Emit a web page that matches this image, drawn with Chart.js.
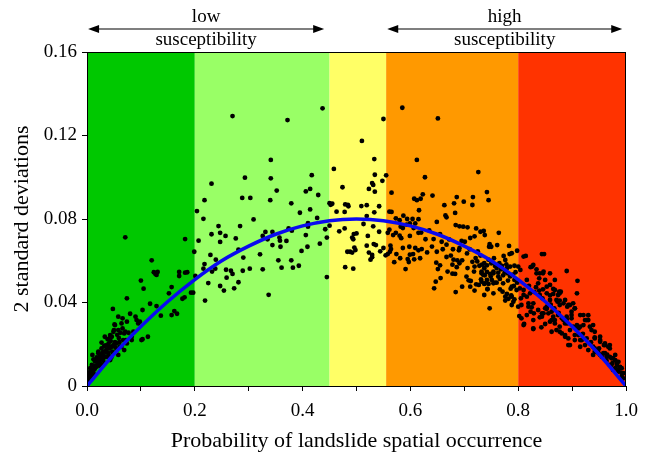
<!DOCTYPE html>
<html>
<head>
<meta charset="utf-8">
<script src="https://cdn.jsdelivr.net/npm/chart.js@4.4.1/dist/chart.umd.min.js"></script>
<style>
  html, body { margin: 0; padding: 0; background: #fff; }
  #wrap { width: 650px; height: 454px; }
</style>
</head>
<body>
<div id="wrap"><canvas id="chart" width="650" height="454"></canvas></div>
<script>
// susceptibility classes along the x axis
const bandEdges = [0, 0.2, 0.45, 0.555, 0.8, 1.0];
const bandColors = ['#00c800', '#99ff66', '#ffff66', '#ff9900', '#ff3300'];

// labelled ranges above the plot
const rangeFrom = [0.002, 0.557];
const rangeTo = [0.44, 0.993];
const rangeText = [['low', 'susceptibility'], ['high', 'susceptibility']];

// fitted curve
const curveX = [0, 0.05, 0.1, 0.15, 0.2, 0.25, 0.3, 0.35, 0.4, 0.45, 0.5, 0.55, 0.6, 0.65, 0.7, 0.75, 0.8, 0.85, 0.9, 0.95, 1.0];
const curveY = [0, 0.0152, 0.0285, 0.0405, 0.051, 0.06, 0.067, 0.0727, 0.0767, 0.0792, 0.08, 0.0792, 0.0767, 0.0727, 0.067, 0.06, 0.051, 0.0405, 0.0285, 0.0152, 0];

// scatter points [probability, 2 sd], grouped by class
const pointsVeryLow = [
  [0.071,0.0712],[0.182,0.0704],[0.120,0.0602],[0.124,0.0545],[0.127,0.0537],[0.131,0.0546],[0.129,0.0532],[0.171,0.0546],
  [0.182,0.0543],[0.186,0.0545],[0.100,0.0505],[0.105,0.0466],[0.157,0.0474],[0.171,0.0527],[0.152,0.0444],[0.177,0.0418],
  [0.181,0.0425],[0.193,0.0447],[0.074,0.042],[0.117,0.0394],[0.103,0.0364],[0.129,0.0383],[0.137,0.0337],[0.157,0.034],
  [0.162,0.0359],[0.167,0.0346],[0.048,0.0369],[0.058,0.0332],[0.066,0.0324],[0.074,0.0308],[0.080,0.0346],[0.090,0.0332],
  [0.095,0.030],[0.092,0.0316],[0.098,0.0308],[0.051,0.0295],[0.050,0.0268],[0.043,0.0233],[0.046,0.0236],[0.059,0.023],
  [0.066,0.0276],[0.069,0.0252],[0.077,0.0255],[0.086,0.026],[0.083,0.022],[0.072,0.022],[0.103,0.0224],[0.113,0.0236],
  [0.027,0.0208],[0.032,0.0192],[0.041,0.0188],[0.049,0.0196],[0.055,0.0172],[0.058,0.0149],[0.069,0.0172],[0.064,0.0188],
  [0.035,0.0164],[0.040,0.0149],[0.047,0.0164],[0.027,0.018],[0.021,0.0164],[0.024,0.0149],[0.033,0.014],[0.045,0.0137],
  [0.018,0.0137],[0.012,0.0128],[0.015,0.0117],[0.022,0.0117],[0.030,0.0124],[0.009,0.0101],[0.018,0.0096],[0.026,0.0105],
  [0.006,0.0085],[0.014,0.008],[0.003,0.0061],[0.007,0.0069],[0.001,0.0045],[0.009,0.0048],[0.004,0.0029],[0.000,0.0016],
  [0.010,0.0149],[0.064,0.030],[0.052,0.0292],[0.043,0.0244],[0.049,0.026],[0.033,0.0236],[0.058,0.0268],[0.067,0.022],
  [0.074,0.0204],[0.055,0.0204],[0.061,0.0188],[0.040,0.0204],[0.046,0.0188],[0.021,0.0157],[0.030,0.0164],[0.037,0.014],
  [0.049,0.0157],[0.015,0.0124],[0.024,0.0124],[0.033,0.0109],[0.043,0.0124],[0.018,0.0093],[0.006,0.0069],[0.012,0.0061],
  [0.003,0.0045],[0.009,0.0037],[0.000,0.002],[0.083,0.0236],[0.101,0.022],[0.199,0.0643],[0.197,0.0447],
  [0.005,0.004],[0.011,0.0075],[0.016,0.009],[0.020,0.011],[0.025,0.0135],[0.028,0.0155],[0.031,0.0145],[0.036,0.0175],
  [0.039,0.016],[0.042,0.018],[0.044,0.0215],[0.052,0.021],[0.056,0.0245],[0.062,0.0255],[0.008,0.0058],[0.013,0.0095],
  [0.019,0.0125],[0.023,0.0098],[0.029,0.0135],[0.035,0.0195],[0.038,0.0225],[0.053,0.0185],[0.060,0.021],[0.071,0.026]
];
const pointsLow = [
  [0.270,0.1293],[0.437,0.133],[0.372,0.1274],[0.341,0.1083],[0.293,0.0998],[0.341,0.0995],[0.231,0.0969],[0.417,0.101],
  [0.352,0.0936],[0.406,0.0932],[0.414,0.0944],[0.429,0.0915],[0.288,0.0901],[0.303,0.0901],[0.340,0.089],[0.218,0.089],
  [0.379,0.0875],[0.204,0.0838],[0.395,0.083],[0.414,0.0846],[0.427,0.0805],[0.216,0.0801],[0.309,0.0798],[0.410,0.078],
  [0.410,0.0763],[0.284,0.0766],[0.244,0.0766],[0.247,0.0734],[0.231,0.0727],[0.257,0.0719],[0.331,0.0738],[0.344,0.0738],
  [0.326,0.0719],[0.374,0.0755],[0.380,0.0744],[0.406,0.0723],[0.442,0.0751],[0.445,0.0711],[0.207,0.0696],[0.276,0.0707],
  [0.247,0.069],[0.335,0.0703],[0.357,0.0711],[0.358,0.0696],[0.344,0.0675],[0.370,0.0695],[0.359,0.0667],[0.432,0.0682],
  [0.409,0.0667],[0.398,0.0647],[0.281,0.0653],[0.229,0.0628],[0.290,0.0615],[0.239,0.0605],[0.321,0.0631],[0.355,0.0602],
  [0.379,0.0602],[0.393,0.0576],[0.361,0.0567],[0.382,0.0567],[0.218,0.0584],[0.216,0.0562],[0.232,0.0548],[0.238,0.0562],
  [0.258,0.0557],[0.267,0.0552],[0.270,0.0537],[0.289,0.0552],[0.302,0.0562],[0.326,0.0559],[0.201,0.0527],[0.259,0.0519],
  [0.225,0.0493],[0.281,0.0497],[0.247,0.0479],[0.273,0.0468],[0.254,0.0457],[0.445,0.0522],[0.337,0.0437],[0.219,0.0409]
];
const pointsModerate = [
  [0.458,0.104],[0.455,0.0873],[0.450,0.0876],[0.452,0.0868],[0.463,0.0835],[0.450,0.0768],[0.468,0.0741],
  [0.510,0.1174],[0.550,0.1279],[0.533,0.1087],[0.534,0.1012],[0.548,0.0983],[0.529,0.0972],[0.531,0.0963],[0.474,0.0952],
  [0.523,0.0944],[0.534,0.0931],[0.479,0.087],[0.484,0.0867],[0.485,0.0861],[0.509,0.0862],[0.519,0.0866],[0.542,0.0861],
  [0.478,0.0834],[0.533,0.0832],[0.519,0.0814],[0.513,0.0776],[0.531,0.0765],[0.478,0.0755],[0.542,0.0739],[0.495,0.0728],
  [0.500,0.0731],[0.492,0.0711],[0.494,0.0703],[0.521,0.0719],[0.519,0.0672],[0.532,0.068],[0.536,0.0675],[0.550,0.0661],
  [0.544,0.0645],[0.554,0.0626],[0.483,0.0643],[0.488,0.0643],[0.492,0.0639],[0.496,0.0663],[0.498,0.0651],[0.523,0.0639],
  [0.529,0.0628],[0.526,0.0605],[0.529,0.0617],[0.479,0.0569],[0.494,0.0562]
];
const pointsHigh = [
  [0.585,0.1333],[0.651,0.1282],[0.612,0.1083],[0.726,0.1025],[0.627,0.100],[0.555,0.1009],[0.565,0.0926],[0.742,0.0929],
  [0.623,0.0918],[0.619,0.0897],[0.641,0.0912],[0.607,0.0897],[0.612,0.089],[0.686,0.0905],[0.716,0.0905],[0.745,0.089],
  [0.681,0.0875],[0.699,0.0883],[0.663,0.0866],[0.715,0.0867],[0.616,0.0842],[0.561,0.0835],[0.565,0.0834],[0.683,0.0829],
  [0.665,0.0817],[0.667,0.0808],[0.587,0.0816],[0.573,0.0803],[0.580,0.0794],[0.594,0.080],[0.604,0.080],[0.615,0.0799],
  [0.649,0.0786],[0.561,0.0749],[0.558,0.0734],[0.568,0.0723],[0.573,0.0734],[0.582,0.0763],[0.586,0.0757],[0.593,0.0773],
  [0.599,0.0779],[0.609,0.0779],[0.606,0.0757],[0.615,0.0734],[0.599,0.0719],[0.580,0.072],[0.583,0.0708],[0.628,0.0703],
  [0.643,0.0704],[0.658,0.0691],[0.684,0.0771],[0.691,0.0765],[0.698,0.0763],[0.706,0.076],[0.722,0.0755],[0.730,0.0739],
  [0.736,0.0743],[0.711,0.0709],[0.719,0.0717],[0.738,0.0723],[0.746,0.0667],[0.701,0.0691],[0.679,0.0655],[0.690,0.065],
  [0.691,0.066],[0.667,0.0677],[0.563,0.0672],[0.564,0.0656],[0.562,0.0643],[0.558,0.0632],[0.574,0.0632],[0.586,0.0661],
  [0.598,0.0667],[0.609,0.0661],[0.615,0.065],[0.621,0.0656],[0.631,0.064],[0.599,0.0629],[0.605,0.0632],[0.581,0.0612],
  [0.570,0.0593],[0.595,0.0608],[0.597,0.0594],[0.607,0.0607],[0.618,0.0612],[0.591,0.056],[0.649,0.0643],[0.667,0.0618],
  [0.680,0.0605],[0.687,0.0602],[0.691,0.0588],[0.696,0.0602],[0.648,0.0591],[0.651,0.056],[0.655,0.0578],[0.678,0.0581],
  [0.686,0.0569],[0.706,0.0565],[0.718,0.0548],[0.719,0.0572],[0.721,0.0613],[0.724,0.0597],[0.728,0.0576],[0.732,0.0548],
  [0.735,0.0533],[0.737,0.0564],[0.742,0.0546],[0.742,0.0578],[0.669,0.0548],[0.678,0.0538],[0.683,0.0537],[0.656,0.0517],
  [0.647,0.050],[0.704,0.0524],[0.708,0.0506],[0.712,0.0503],[0.722,0.0487],[0.727,0.0484],[0.732,0.050],[0.737,0.0489],
  [0.743,0.0465],[0.644,0.0468],[0.696,0.0476],[0.711,0.0476],[0.719,0.0457],[0.684,0.045],[0.737,0.0436],
  [0.764,0.0734],[0.747,0.068],[0.750,0.0667],[0.761,0.0675],[0.783,0.0671],[0.798,0.0648],[0.773,0.0623],[0.776,0.0604],
  [0.784,0.0632],[0.737,0.0588],[0.733,0.0581],[0.757,0.0575],[0.765,0.0588],[0.768,0.0559],[0.778,0.0583],[0.785,0.0572],
  [0.793,0.0576],[0.732,0.054],[0.738,0.053],[0.748,0.0537],[0.754,0.054],[0.763,0.0543],[0.731,0.0511],[0.742,0.0508],
  [0.745,0.0489],[0.751,0.0508],[0.756,0.0495],[0.766,0.0513],[0.772,0.053],[0.780,0.054],[0.790,0.0533],[0.793,0.0508],
  [0.798,0.0495],[0.792,0.0479],[0.786,0.0466],[0.743,0.0463],[0.754,0.0444],[0.766,0.0463],[0.771,0.0452],[0.779,0.0441],
  [0.787,0.0434],[0.793,0.0415],[0.782,0.0418],[0.776,0.0409],[0.747,0.0372],[0.788,0.0388],[0.788,0.0636],[0.754,0.0548],
  [0.763,0.0524],[0.779,0.0564],[0.738,0.0492],[0.754,0.0492],[0.772,0.0492],[0.788,0.0476],[0.797,0.046],[0.776,0.0428],
  [0.788,0.0428],[0.791,0.0404],
  [0.620,0.0735],[0.635,0.0745],[0.640,0.0668],[0.655,0.0728],[0.660,0.0655],[0.672,0.0702],[0.675,0.0625],[0.695,0.0695],
  [0.705,0.0635],[0.710,0.0655],[0.715,0.0595],[0.725,0.0645],[0.730,0.0625],[0.745,0.0605],[0.750,0.0588],[0.755,0.0612],
  [0.760,0.0565],[0.770,0.0575],[0.775,0.0545],[0.785,0.0525],[0.795,0.0545],[0.760,0.0495],[0.781,0.0505],[0.749,0.0525]
];
const pointsVeryHigh = [
  [0.800,0.0572],[0.804,0.0556],[0.814,0.0623],[0.844,0.0632],[0.848,0.0632],[0.823,0.0569],[0.834,0.0559],[0.846,0.054],
  [0.890,0.0551],[0.803,0.0468],[0.810,0.0436],[0.805,0.042],[0.800,0.038],[0.802,0.0335],[0.806,0.0324],[0.811,0.0297],
  [0.826,0.0572],[0.834,0.054],[0.839,0.0516],[0.837,0.0492],[0.833,0.0473],[0.839,0.0457],[0.846,0.0463],[0.853,0.0444],
  [0.859,0.0434],[0.865,0.0441],[0.876,0.0452],[0.877,0.0409],[0.910,0.0504],[0.909,0.0444],[0.816,0.0428],[0.819,0.0396],
  [0.825,0.0377],[0.823,0.0356],[0.829,0.0348],[0.837,0.0364],[0.840,0.0329],[0.847,0.0348],[0.853,0.037],[0.860,0.0388],
  [0.867,0.0372],[0.873,0.0404],[0.877,0.0388],[0.884,0.0396],[0.891,0.038],[0.899,0.0356],[0.828,0.0273],[0.843,0.0281],
  [0.862,0.026],[0.871,0.0268],[0.881,0.0252],[0.887,0.0236],[0.893,0.0196],[0.896,0.0268],[0.905,0.0244],[0.915,0.022],
  [0.921,0.034],[0.927,0.0316],[0.930,0.0339],[0.884,0.0316],[0.891,0.030],[0.899,0.0324],[0.909,0.0292],[0.915,0.0284],
  [0.877,0.0284],[0.868,0.0316],[0.859,0.0308],[0.850,0.0297],[0.936,0.0268],[0.942,0.0233],[0.952,0.0212],[0.959,0.0196],
  [0.967,0.0188],[0.961,0.0157],[0.970,0.014],[0.976,0.0133],[0.983,0.0116],[0.989,0.0092],[0.995,0.0061],[0.933,0.0204],
  [0.942,0.018],[0.949,0.0157],[0.955,0.014],[0.964,0.0121],[0.973,0.0101],[0.980,0.0085],[0.986,0.0069],[0.992,0.0045],
  [0.924,0.0196],[0.930,0.0172],[0.939,0.0149],
  [0.865,0.0465],[0.879,0.0452],[0.859,0.0412],[0.871,0.0412],[0.893,0.0388],[0.902,0.0396],[0.905,0.0372],[0.850,0.0372],
  [0.844,0.0348],[0.856,0.0348],[0.865,0.0332],[0.874,0.034],[0.881,0.0324],[0.890,0.0332],[0.899,0.034],[0.930,0.0316],
  [0.939,0.0292],[0.921,0.0292],[0.912,0.0276],[0.902,0.0284],[0.887,0.030],[0.868,0.030],[0.877,0.026],[0.887,0.0244],
  [0.893,0.0228],[0.896,0.0196],[0.905,0.022],[0.912,0.0244],[0.918,0.022],[0.927,0.0228],[0.939,0.0188],[0.942,0.0228],
  [0.952,0.022],[0.961,0.0196],[0.970,0.0196],[0.948,0.0172],[0.958,0.0157],[0.964,0.014],[0.973,0.0133],[0.983,0.0101],
  [0.989,0.0085],[0.980,0.0124],[0.952,0.0149],[0.942,0.0164],[0.915,0.0188],[0.992,0.0061],[0.995,0.0037],[0.970,0.0101],
  [0.976,0.0077],
  [0.810,0.062],[0.847,0.0548],[0.859,0.054],[0.868,0.0508],[0.816,0.0508],[0.853,0.0476],[0.874,0.0436],[0.810,0.046],
  [0.822,0.0444],[0.840,0.0436],[0.806,0.0388],[0.819,0.038],[0.828,0.0396],[0.853,0.038],[0.862,0.0356],[0.816,0.034],
  [0.828,0.0316],[0.844,0.0332],[0.862,0.0316],[0.810,0.0292],[0.828,0.0276],
  [0.828,0.058],[0.840,0.054],[0.850,0.0508],[0.859,0.0484],[0.868,0.046],[0.877,0.0444],[0.887,0.0412],[0.896,0.0388],
  [0.905,0.0372],[0.915,0.034],[0.924,0.0316],[0.933,0.0284],[0.942,0.026],[0.952,0.0236],[0.961,0.0204],[0.970,0.018],
  [0.980,0.0149],[0.986,0.0116],[0.992,0.0085],[0.820,0.048],[0.830,0.045],[0.845,0.042],[0.860,0.039],[0.875,0.035],
  [0.890,0.032],[0.905,0.028],[0.920,0.025],[0.935,0.021],[0.950,0.018],[0.965,0.015],[0.975,0.011],[0.985,0.008]
];

const serif = "'Liberation Serif', 'Times New Roman', serif";

const samples = [].concat(pointsVeryLow, pointsLow, pointsModerate, pointsHigh, pointsVeryHigh)
  .map(p => ({x: p[0], y: p[1]}));
const curve = curveX.map((x, i) => ({x: x, y: curveY[i]}));

// coloured class bands behind the points
const bandPlugin = {
  id: 'bands',
  beforeDatasetsDraw(chart) {
    const {ctx, chartArea: a, scales: {x}} = chart;
    ctx.save();
    for (let i = 0; i < bandColors.length; i++) {
      const x0 = x.getPixelForValue(bandEdges[i]);
      const x1 = x.getPixelForValue(bandEdges[i + 1]);
      ctx.fillStyle = bandColors[i];
      ctx.fillRect(x0, a.top, x1 - x0, a.bottom - a.top);
    }
    ctx.restore();
  },
  afterDraw(chart) {
    const {ctx, chartArea: a, scales: {x}} = chart;
    ctx.save();
    // frame
    ctx.strokeStyle = '#000';
    ctx.lineWidth = 1;
    ctx.strokeRect(a.left + 0.5, a.top + 0.5, a.right - a.left - 1, a.bottom - a.top);

    // range arrows + labels
    const ay = 29;
    ctx.fillStyle = '#000';
    ctx.font = '19px ' + serif;
    ctx.textAlign = 'center';
    ctx.textBaseline = 'middle';
    for (let i = 0; i < rangeFrom.length; i++) {
      const x0 = x.getPixelForValue(rangeFrom[i]);
      const x1 = x.getPixelForValue(rangeTo[i]);
      ctx.beginPath();
      ctx.moveTo(x0 + 8, ay);
      ctx.lineTo(x1 - 8, ay);
      ctx.lineWidth = 1.2;
      ctx.stroke();
      ctx.beginPath();
      ctx.moveTo(x0, ay); ctx.lineTo(x0 + 11, ay - 4); ctx.lineTo(x0 + 11, ay + 4); ctx.closePath();
      ctx.moveTo(x1, ay); ctx.lineTo(x1 - 11, ay - 4); ctx.lineTo(x1 - 11, ay + 4); ctx.closePath();
      ctx.fill();
      const cx = (x0 + x1) / 2;
      ctx.fillText(rangeText[i][0], cx, 17);
      ctx.fillText(rangeText[i][1], cx, 40);
    }
    ctx.restore();
  }
};

new Chart(document.getElementById('chart'), {
  type: 'scatter',
  data: {
    datasets: [
      {
        label: 'fit',
        data: curve,
        showLine: true,
        borderColor: '#0a0af0',
        borderWidth: 3.5,
        pointRadius: 0,
        cubicInterpolationMode: 'monotone',
        order: 0
      },
      {
        label: 'cells',
        data: samples,
        backgroundColor: '#000',
        borderWidth: 0,
        pointRadius: 2.4,
        order: 1
      }
    ]
  },
  options: {
    responsive: false,
    animation: false,
    devicePixelRatio: 1,
    layout: {padding: {left: 0, right: 24, top: 52, bottom: 0}},
    plugins: {legend: {display: false}, tooltip: {enabled: false}},
    scales: {
      x: {
        type: 'linear',
        min: 0,
        max: 1,
        afterFit: s => { s.height = 68; },
        ticks: {
          stepSize: 0.1,
          autoSkip: false,
          maxRotation: 0,
          padding: 9,
          color: '#000',
          font: {family: serif, size: 19},
          callback: v => Math.round(v * 10) % 2 === 0 ? v.toFixed(1) : ''
        },
        grid: {drawOnChartArea: false, tickLength: 5, color: '#000'},
        border: {color: '#000'},
        title: {
          display: true,
          text: 'Probability of landslide spatial occurrence',
          color: '#000',
          font: {family: serif, size: 22},
          padding: {top: 0, bottom: 0}
        }
      },
      y: {
        min: 0,
        max: 0.16,
        afterFit: s => { s.width = 87; },
        ticks: {
          stepSize: 0.04,
          padding: 5,
          color: '#000',
          font: {family: serif, size: 19},
          callback: v => v === 0 ? '0' : v.toFixed(2)
        },
        grid: {drawOnChartArea: false, tickLength: 5, color: '#000'},
        border: {color: '#000'},
        title: {
          display: true,
          text: '2 standard deviations',
          color: '#000',
          font: {family: serif, size: 22},
          padding: {top: 9, bottom: 0}
        }
      }
    }
  },
  plugins: [bandPlugin]
});
</script>
</body>
</html>
